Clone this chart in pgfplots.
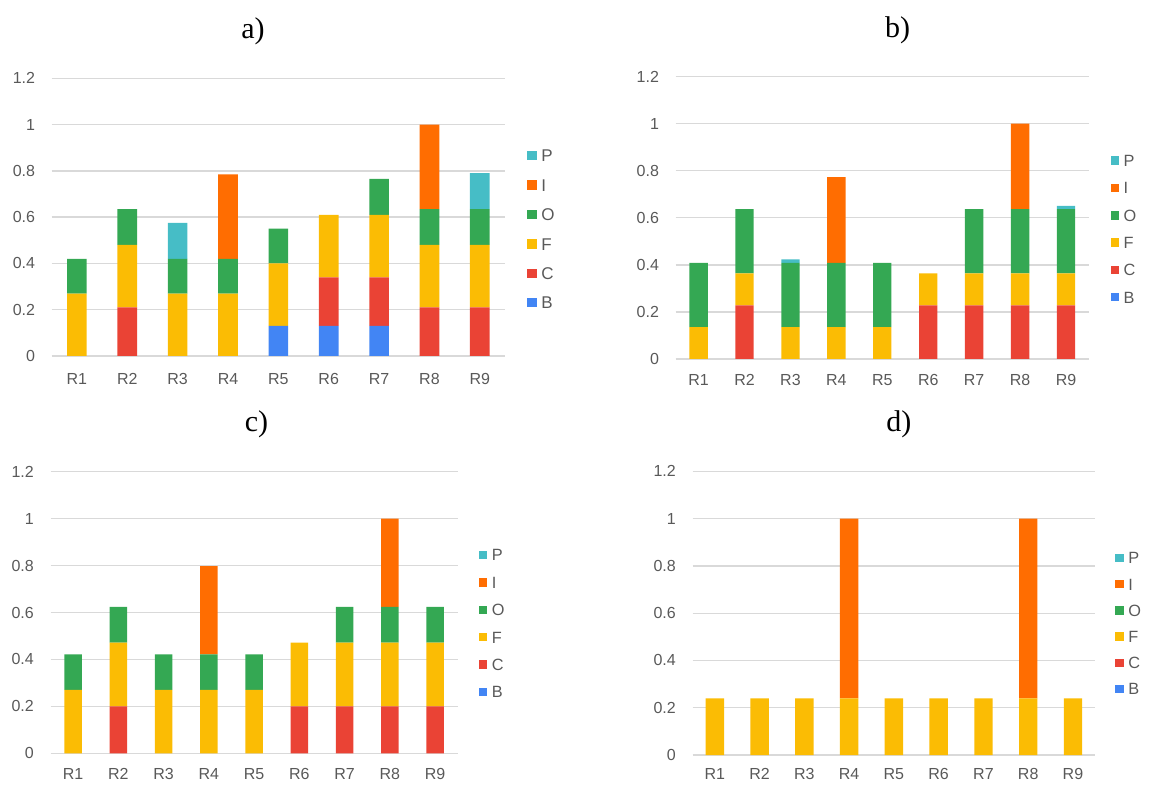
\documentclass[border=0pt]{standalone}
\usepackage{fontspec}
\setmainfont{Liberation Serif}
\newfontfamily\arial{Liberation Sans}
\usepackage{pgfplots}
\pgfplotsset{compat=1.18}
\definecolor{cB}{HTML}{4285F4}
\definecolor{cC}{HTML}{EA4335}
\definecolor{cF}{HTML}{FBBC04}
\definecolor{cO}{HTML}{34A853}
\definecolor{cI}{HTML}{FF6D01}
\definecolor{cP}{HTML}{46BDC6}
\definecolor{gridc}{HTML}{D9D9D9}
\definecolor{tickc}{HTML}{595959}
\pgfplotsset{
  sqleg/.style={legend image code/.code={\fill[##1] (0pt,{-#1pt/2}) rectangle (#1pt,{#1pt/2});}},
  panel/.style={
    scale only axis, anchor=south west,
    ybar stacked,
    xmin=0.5, xmax=9.5, ymin=0, ymax=1.2,
    ytick={0,0.2,0.4,0.6,0.8,1,1.2},
    yticklabels={0,0.2,0.4,0.6,0.8,1,1.2},
    xtick={1,2,3,4,5,6,7,8,9},
    xticklabels={R1,R2,R3,R4,R5,R6,R7,R8,R9},
    major tick length=0pt,
    axis line style={draw=none},
    ymajorgrids, grid style={draw=gridc, line width=1.3pt},
    tick label style={font=\arial\fontsize{16}{18}\selectfont, text=tickc},
    xticklabel style={anchor=north, inner sep=0pt},
    yticklabel style={anchor=east, inner sep=0pt, xshift=-16.5pt},
    reverse legend,
    legend cell align=left,
    legend style={draw=none, fill=none, inner sep=0pt, outer sep=0pt,
      anchor=north west, text=tickc, column sep=4.5pt,
      nodes={inner sep=0pt, text depth=0pt}},
  }
}
\begin{document}
\begin{tikzpicture}
\useasboundingbox (0pt,0pt) rectangle (1150pt,785pt);
\node[font=\fontsize{30}{32}\selectfont, anchor=base] at (253pt,746pt) {a)};
\node[font=\fontsize{30}{32}\selectfont, anchor=base] at (897.5pt,747pt) {b)};
\node[font=\fontsize{30}{32}\selectfont, anchor=base] at (256.5pt,353.3pt) {c)};
\node[font=\fontsize{30}{32}\selectfont, anchor=base] at (898.8pt,353.6pt) {d)};

% a)
\begin{axis}[panel, at={(51.7pt,429pt)}, width=453.3pt, height=277.7pt, bar width=0.39,
  xticklabel style={yshift=-17.5pt},
  legend style={at={(1.0496,0.7434)}, font=\arial\fontsize{17}{19}\selectfont,
    nodes={text height=12.3pt}, row sep=17.1pt}]
\addplot[fill=cB, draw=none, sqleg=9.5] coordinates {(1,0) (2,0) (3,0) (4,0) (5,0.13) (6,0.13) (7,0.13) (8,0) (9,0)};
\addplot[fill=cC, draw=none, sqleg=9.5] coordinates {(1,0) (2,0.21) (3,0) (4,0) (5,0) (6,0.21) (7,0.21) (8,0.21) (9,0.21)};
\addplot[fill=cF, draw=none, sqleg=9.5] coordinates {(1,0.27) (2,0.27) (3,0.27) (4,0.27) (5,0.27) (6,0.27) (7,0.27) (8,0.27) (9,0.27)};
\addplot[fill=cO, draw=none, sqleg=9.5] coordinates {(1,0.15) (2,0.155) (3,0.15) (4,0.15) (5,0.15) (6,0) (7,0.155) (8,0.155) (9,0.155)};
\addplot[fill=cI, draw=none, sqleg=9.5] coordinates {(1,0) (2,0) (3,0) (4,0.365) (5,0) (6,0) (7,0) (8,0.365) (9,0)};
\addplot[fill=cP, draw=none, sqleg=9.5] coordinates {(1,0) (2,0) (3,0.155) (4,0) (5,0) (6,0) (7,0) (8,0) (9,0.155)};
\legend{B,C,F,O,I,P}
\end{axis}

% b)
\begin{axis}[panel, at={(675.6pt,426pt)}, width=413.4pt, height=282.3pt, bar width=0.40,
  xticklabel style={yshift=-15pt},
  legend style={at={(1.0525,0.7232)}, font=\arial\fontsize{16.3}{18}\selectfont,
    nodes={text height=11.7pt}, row sep=15.6pt}]
\addplot[fill=cB, draw=none, sqleg=8.5] coordinates {(1,0) (2,0) (3,0) (4,0) (5,0) (6,0) (7,0) (8,0) (9,0)};
\addplot[fill=cC, draw=none, sqleg=8.5] coordinates {(1,0) (2,0.228) (3,0) (4,0) (5,0) (6,0.228) (7,0.228) (8,0.228) (9,0.228)};
\addplot[fill=cF, draw=none, sqleg=8.5] coordinates {(1,0.136) (2,0.136) (3,0.136) (4,0.136) (5,0.136) (6,0.136) (7,0.136) (8,0.136) (9,0.136)};
\addplot[fill=cO, draw=none, sqleg=8.5] coordinates {(1,0.273) (2,0.273) (3,0.273) (4,0.273) (5,0.273) (6,0) (7,0.273) (8,0.273) (9,0.273)};
\addplot[fill=cI, draw=none, sqleg=8.5] coordinates {(1,0) (2,0) (3,0) (4,0.364) (5,0) (6,0) (7,0) (8,0.363) (9,0)};
\addplot[fill=cP, draw=none, sqleg=8.5] coordinates {(1,0) (2,0) (3,0.014) (4,0) (5,0) (6,0) (7,0) (8,0) (9,0.014)};
\legend{B,C,F,O,I,P}
\end{axis}

% c)
\begin{axis}[panel, at={(50.5pt,31.7pt)}, width=407.2pt, height=281.6pt, bar width=0.39,
  xticklabel style={yshift=-14.5pt},
  legend style={at={(1.052,0.725)}, font=\arial\fontsize{16.3}{18}\selectfont,
    nodes={text height=11.7pt}, row sep=15.7pt}]
\addplot[fill=cB, draw=none, sqleg=8.5] coordinates {(1,0) (2,0) (3,0) (4,0) (5,0) (6,0) (7,0) (8,0) (9,0)};
\addplot[fill=cC, draw=none, sqleg=8.5] coordinates {(1,0) (2,0.2) (3,0) (4,0) (5,0) (6,0.2) (7,0.2) (8,0.2) (9,0.2)};
\addplot[fill=cF, draw=none, sqleg=8.5] coordinates {(1,0.27) (2,0.272) (3,0.27) (4,0.27) (5,0.27) (6,0.272) (7,0.272) (8,0.272) (9,0.272)};
\addplot[fill=cO, draw=none, sqleg=8.5] coordinates {(1,0.152) (2,0.152) (3,0.152) (4,0.152) (5,0.152) (6,0) (7,0.152) (8,0.152) (9,0.152)};
\addplot[fill=cI, draw=none, sqleg=8.5] coordinates {(1,0) (2,0) (3,0) (4,0.376) (5,0) (6,0) (7,0) (8,0.376) (9,0)};
\addplot[fill=cP, draw=none, sqleg=8.5] coordinates {(1,0) (2,0) (3,0) (4,0) (5,0) (6,0) (7,0) (8,0) (9,0)};
\legend{B,C,F,O,I,P}
\end{axis}

% d)
\begin{axis}[panel, at={(692.5pt,30pt)}, width=402.8pt, height=283.7pt, bar width=0.41,
  xticklabel style={yshift=-13.5pt},
  legend style={at={(1.050,0.715)}, font=\arial\fontsize{16.3}{18}\selectfont,
    nodes={text height=11.7pt}, row sep=14.5pt}]
\addplot[fill=cB, draw=none, sqleg=8.5] coordinates {(1,0) (2,0) (3,0) (4,0) (5,0) (6,0) (7,0) (8,0) (9,0)};
\addplot[fill=cC, draw=none, sqleg=8.5] coordinates {(1,0) (2,0) (3,0) (4,0) (5,0) (6,0) (7,0) (8,0) (9,0)};
\addplot[fill=cF, draw=none, sqleg=8.5] coordinates {(1,0.24) (2,0.24) (3,0.24) (4,0.24) (5,0.24) (6,0.24) (7,0.24) (8,0.24) (9,0.24)};
\addplot[fill=cO, draw=none, sqleg=8.5] coordinates {(1,0) (2,0) (3,0) (4,0) (5,0) (6,0) (7,0) (8,0) (9,0)};
\addplot[fill=cI, draw=none, sqleg=8.5] coordinates {(1,0) (2,0) (3,0) (4,0.76) (5,0) (6,0) (7,0) (8,0.76) (9,0)};
\addplot[fill=cP, draw=none, sqleg=8.5] coordinates {(1,0) (2,0) (3,0) (4,0) (5,0) (6,0) (7,0) (8,0) (9,0)};
\legend{B,C,F,O,I,P}
\end{axis}
\end{tikzpicture}
\end{document}
